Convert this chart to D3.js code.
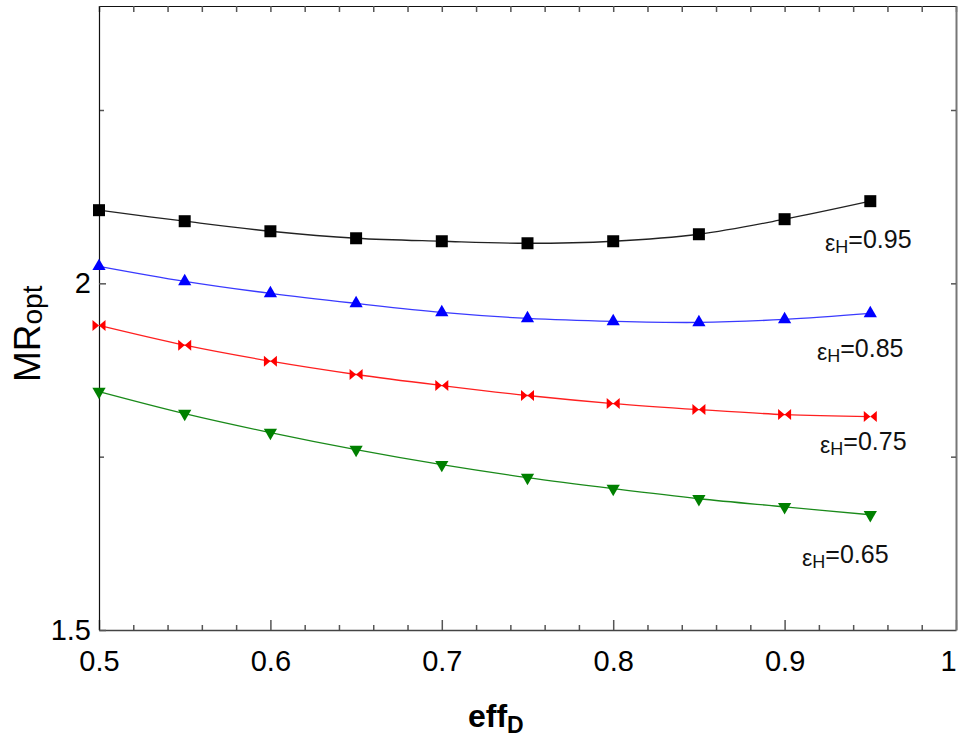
<!DOCTYPE html>
<html><head><meta charset="utf-8">
<script src="https://cdn.jsdelivr.net/npm/d3@7"></script>
<style>body{margin:0;background:#fff;} text{font-family:Arial,"Liberation Sans",sans-serif;}</style>
</head><body><svg id="c" width="959" height="740"></svg>
<script>
const effD = [0.5,0.55,0.6,0.65,0.7,0.75,0.8,0.85,0.9,0.95];
const mr095 = [2.1055,2.0896,2.0751,2.0650,2.0607,2.0578,2.0607,2.0708,2.0925,2.1185];
const mr085 = [2.0246,2.0029,1.9855,1.9711,1.9581,1.9494,1.9451,1.9436,1.9480,1.9566];
const mr075 = [1.9393,1.9108,1.8877,1.8685,1.8526,1.8382,1.8266,1.8179,1.8107,1.8078];
const mr065 = [1.8439,1.8121,1.7847,1.7601,1.7384,1.7197,1.7038,1.6893,1.6777,1.6662];
const seriesNames = ["0.95","0.85","0.75","0.65"];
const labelX = [0.9236,0.9189,0.9207,0.9102];
const labelY = [2.0506,1.8931,1.7600,1.5968];
const xMajor = [0.5,0.6,0.7,0.8,0.9,1];
const xMinor = d3.range(0,26).map(i=>+(0.5+i*0.02).toFixed(2));
const yMajor = [1.5,2];
const yMinor = [1.75,2.25];

const svg = d3.select("#c");
svg.append("rect").attr("width",959).attr("height",740).attr("fill","#fff");
const x = d3.scaleLinear().domain([0.5,1]).range([99,956]);
const y = d3.scaleLinear().domain([1.5,2.4]).range([630,6]);

// axes
const gB = svg.append("g").attr("transform","translate(0,630)")
  .call(d3.axisBottom(x).tickValues(xMinor.filter(v=>!xMajor.some(m=>Math.abs(m-v)<1e-9))).tickSizeInner(-5).tickSizeOuter(0).tickFormat(""));
gB.select(".domain").remove();
const gB2 = svg.append("g").attr("transform","translate(0,630)")
  .call(d3.axisBottom(x).tickValues(xMajor).tickSizeInner(-10).tickSizeOuter(0).tickPadding(20).tickFormat(d=>d===1?"1":d3.format(".1f")(d)));
gB2.select(".domain").attr("stroke","#444").attr("stroke-width",1.5);
gB2.selectAll("text").attr("font-size",29).attr("fill","#000")
  .attr("dx",d=>d===1?-8:0);

const gT = svg.append("g").attr("transform","translate(0,6)")
  .call(d3.axisTop(x).tickValues(xMinor).tickSizeInner(-6).tickSizeOuter(0).tickFormat(""));
gT.select(".domain").attr("stroke","#111").attr("stroke-width",1.2);

const gL = svg.append("g").attr("transform","translate(99,0)")
  .call(d3.axisLeft(y).tickValues(yMinor).tickSizeInner(-5).tickSizeOuter(0).tickFormat(""));
gL.select(".domain").remove();
const gL2 = svg.append("g").attr("transform","translate(99,0)")
  .call(d3.axisLeft(y).tickValues(yMajor).tickSizeInner(-7).tickSizeOuter(0).tickPadding(8).tickFormat(d=>String(d)));
gL2.select(".domain").attr("stroke","#111").attr("stroke-width",1.2);
gL2.selectAll("text").attr("font-size",29).attr("fill","#000");

const gR = svg.append("g").attr("transform","translate(956,0)")
  .call(d3.axisRight(y).tickValues([1.75,2,2.25]).tickSizeInner(-5).tickSizeOuter(0).tickFormat(""));
gR.select(".domain").attr("stroke","#777").attr("stroke-width",2);

svg.selectAll(".tick line").attr("stroke","#555").attr("stroke-width",1.5);

// series
const colors = ["#000000","#0000ff","#ff0000","#008000"];
const lineColors = ["#222222","#3a3aff","#ff2020","#1a8a1a"];
const data = [mr095,mr085,mr075,mr065];
const bowtie = "M-6.5,-5.5L0,0L-6.5,5.5Z M6.5,-5.5L0,0L6.5,5.5Z";
const markerPaths = [
  d3.symbol(d3.symbolSquare,144)(),
  d3.symbol(d3.symbolTriangle,76)(),
  bowtie,
  d3.symbol(d3.symbolTriangle,76)()
];
const markerRot = [0,0,0,180];
const line = d3.line().x(d=>x(d[0])).y(d=>y(d[1])).curve(d3.curveCatmullRom);
data.forEach((vals,i)=>{
  const pts = effD.map((e,j)=>[e,vals[j]]);
  svg.append("path").attr("d",line(pts)).attr("fill","none").attr("stroke",lineColors[i]).attr("stroke-width",1.3);
  svg.append("g").selectAll("path").data(pts).join("path")
    .attr("d",markerPaths[i])
    .attr("transform",d=>`translate(${x(d[0])},${y(d[1])}) rotate(${markerRot[i]})`)
    .attr("fill",colors[i]);
  const t = svg.append("text").attr("x",x(labelX[i])).attr("y",y(labelY[i])).attr("fill","#111");
  t.append("tspan").attr("font-size",23).attr("dy",3).text("ε");
  t.append("tspan").attr("font-size",18).attr("dy",2).text("H");
  t.append("tspan").attr("font-size",25).attr("dy",-5).text("="+seriesNames[i]);
});

// axis titles
const yl = svg.append("text").attr("transform","translate(40,382) rotate(-90)").attr("fill","#000");
yl.append("tspan").attr("font-size",37).text("MR");
yl.append("tspan").attr("font-size",28).attr("dy",2).text("opt");
const xl = svg.append("text").attr("x",468).attr("y",727).attr("fill","#000").attr("font-weight","bold");
xl.append("tspan").attr("font-size",32).text("eff");
xl.append("tspan").attr("font-size",23).attr("dy",6).text("D");
</script></body></html>
